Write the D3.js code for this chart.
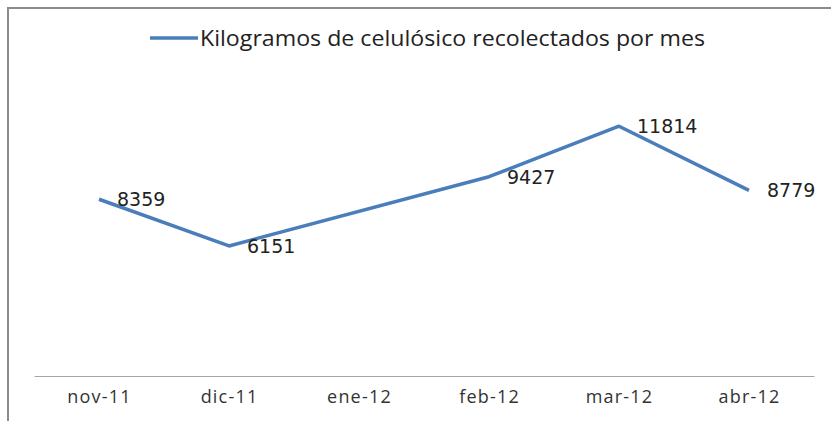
<!DOCTYPE html>
<html>
<head>
<meta charset="utf-8">
<script src="https://cdn.jsdelivr.net/npm/d3@7"></script>
<style>
  body { margin: 0; background: #fff; }
  svg { display: block; }
</style>
</head>
<body>
<div id="chart"></div>
<script>
// data (ene-12 has no value / label in the original)
const months = ['nov-11', 'dic-11', 'ene-12', 'feb-12', 'mar-12', 'abr-12'];
const kilos = [8359, 6151, null, 9427, 11814, 8779];
const seriesName = 'Kilogramos de celulósico recolectados por mes';
const yDomain = [0, 14000];

const width = 831, height = 421;
const margin = {top: 80, right: 17, bottom: 45, left: 34};
const lineColor = '#4a7ebb';

const svg = d3.select('#chart').append('svg')
  .attr('width', width)
  .attr('height', height);

// chart frame (only top and left edges show in the picture)
svg.append('path')
  .attr('d', 'M8,' + height + 'V8H' + width)
  .attr('fill', 'none')
  .attr('stroke', '#8c8c8c')
  .attr('stroke-width', 2);

const x = d3.scalePoint()
  .domain(months)
  .range([margin.left, width - margin.right])
  .padding(0.5);

const y = d3.scaleLinear()
  .domain(yDomain)
  .range([376, margin.top]);

// x axis
const xAxis = d3.axisBottom(x).tickSize(0).tickPadding(14);
const gx = svg.append('g')
  .attr('transform', 'translate(0,' + y(0) + ')')
  .call(xAxis);
gx.select('.domain').attr('stroke', '#a6a6a6').attr('stroke-width', 1.2);
gx.selectAll('text')
  .attr('font-family', '"Open Sans", sans-serif')
  .attr('font-size', 18)
  .attr('letter-spacing', '1.2px')
  .attr('fill', '#333');

const points = months.map((m, i) => ({month: m, value: kilos[i]}))
  .filter(d => d.value !== null);

const line = d3.line()
  .x(d => x(d.month))
  .y(d => y(d.value));

svg.append('path')
  .datum(points)
  .attr('d', line)
  .attr('fill', 'none')
  .attr('stroke', lineColor)
  .attr('stroke-width', 3.5)
  .attr('stroke-linejoin', 'round');

svg.selectAll('.lbl')
  .data(points)
  .enter().append('text')
  .attr('class', 'lbl')
  .attr('x', d => x(d.month) + 18)
  .attr('y', d => y(d.value) + 7)
  .attr('font-family', '"DejaVu Sans", sans-serif')
  .attr('font-size', 19)
  .attr('fill', '#222')
  .text(d => d.value);

// legend
const legend = svg.append('g');
legend.append('line')
  .attr('x1', 150).attr('x2', 198)
  .attr('y1', 38).attr('y2', 38)
  .attr('stroke', lineColor)
  .attr('stroke-width', 3.5);
legend.append('text')
  .attr('x', 200)
  .attr('y', 46)
  .attr('font-family', '"Open Sans", sans-serif')
  .attr('font-size', 21)
  .attr('fill', '#222')
  .attr('textLength', 505)
  .attr('lengthAdjust', 'spacingAndGlyphs')
  .text(seriesName);
</script>
</body>
</html>
